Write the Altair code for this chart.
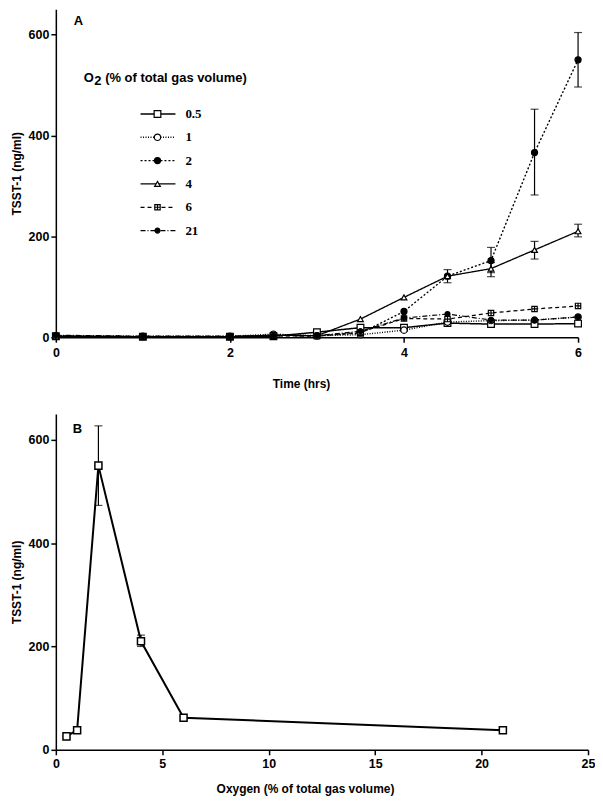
import altair as alt
import pandas as pd

# ---------------- Panel A data ----------------
times = [0, 1, 2, 2.5, 3, 3.5, 4, 4.5, 5, 5.5, 6]
series_labels = ["0.5", "1", "2", "4", "6", "21"]
s05 = [2, 1, 1, 2, 10, 19, 19, 28, 26, 26, 27]
s1 = [3, 2, 2, 6, 3, 5, 14, 30, 33, 34, 40]
s2 = [2, 1, 1, 4, 3, 8, 51, 121, 152, 366, 550]
s4 = [1, 1, 1, 4, 3, 36, 79, 121, 136, 173, 210]
s6 = [2, 1, 1, 3, 2, 10, 37, 36, 48, 56, 62]
s21 = [4, 2, 2, 3, 3, 12, 38, 46, 34, 34, 40]
series_values = [s05, s1, s2, s4, s6, s21]

err_series = ["2", "2", "2", "4", "4", "4", "4"]
err_time = [5, 5.5, 6, 4.5, 5, 5.5, 6]
err_low = [128, 282, 496, 108, 120, 155, 199]
err_high = [178, 452, 604, 134, 148, 190, 224]

# ---------------- Panel B data ----------------
oxygen = [0.5, 1, 2, 4, 6, 21]
tsst = [26, 38, 550, 210, 62, 38]
b_err_x = [2, 4]
b_err_low = [473, 200]
b_err_high = [627, 222]

rows = []
for lab, vals in zip(series_labels, series_values):
    for t, v in zip(times, vals):
        rows.append({"series": lab, "time": t, "tsst": v})
dfA = pd.DataFrame(rows)
dfErrA = pd.DataFrame({"series": err_series, "time": err_time, "lo": err_low, "hi": err_high})
dfLeg = pd.DataFrame({"series": series_labels})
dfB = pd.DataFrame({"oxygen": oxygen, "tsst": tsst})
dfErrB = pd.DataFrame({"oxygen": b_err_x, "lo": b_err_low, "hi": b_err_high})

boxplus = "M-1,-1H1V1H-1Z M0,-1V1 M-1,0H1"
dash_scale = alt.Scale(domain=series_labels,
                       range=[[1, 0], [1, 1.5], [2, 2], [1, 0], [4, 3], [5, 2, 1, 2]])
shape_scale = alt.Scale(domain=series_labels,
                        range=["square", "circle", "circle", "triangle-up", boxplus, "circle"])
fill_scale = alt.Scale(domain=series_labels,
                       range=["white", "white", "black", "white", "white", "black"])
size_scale = alt.Scale(domain=series_labels, range=[45, 25, 45, 45, 45, 40])
width_scale = alt.Scale(domain=series_labels, range=[1.5, 1.2, 1.5, 2, 1.5, 1.3])

yA = alt.Y("tsst:Q", title="TSST-1 (ng/ml)",
           scale=alt.Scale(domain=[0, 650], nice=False),
           axis=alt.Axis(values=[0, 200, 400, 600], format="d"))
xA = alt.X("time:Q", title="Time (hrs)",
           scale=alt.Scale(domain=[0, 6], nice=False),
           axis=alt.Axis(values=[0, 2, 4, 6], format="d", titlePadding=20, labelPadding=4,
                         titleX=246))

linesA = alt.Chart(dfA).mark_line(color="black").encode(
    x=xA, y=yA,
    detail="series:N",
    strokeDash=alt.StrokeDash("series:N", scale=dash_scale, legend=None),
    strokeWidth=alt.StrokeWidth("series:N", scale=width_scale, legend=None),
)
errA = alt.Chart(dfErrA).mark_rule(color="black", strokeWidth=1.2).encode(
    x="time:Q", y="lo:Q", y2="hi:Q")
capLoA = alt.Chart(dfErrA).mark_tick(color="black", thickness=1.2, size=8, orient="horizontal").encode(
    x="time:Q", y="lo:Q")
capHiA = alt.Chart(dfErrA).mark_tick(color="black", thickness=1.2, size=8, orient="horizontal").encode(
    x="time:Q", y="hi:Q")
ptsA = alt.Chart(dfA).mark_point(filled=True, stroke="black", strokeWidth=1.2, opacity=1).encode(
    x="time:Q", y="tsst:Q",
    shape=alt.Shape("series:N", scale=shape_scale, legend=None),
    fill=alt.Fill("series:N", scale=fill_scale, legend=None),
    size=alt.Size("series:N", scale=size_scale, legend=None),
)
mainA = alt.layer(linesA, errA, capLoA, capHiA, ptsA)

# custom legend
legY = alt.Y("series:N", sort=series_labels, axis=None,
             scale=alt.Scale(type="point", range=[105, 222], padding=0))
legRule = alt.Chart(dfLeg).mark_rule(color="black").encode(
    x=alt.value(85), x2=alt.value(120), y=legY,
    strokeDash=alt.StrokeDash("series:N", scale=dash_scale, legend=None),
    strokeWidth=alt.StrokeWidth("series:N", scale=width_scale, legend=None),
)
legPts = alt.Chart(dfLeg).mark_point(filled=True, stroke="black", strokeWidth=1.2, opacity=1).encode(
    x=alt.value(102), y=legY,
    shape=alt.Shape("series:N", scale=shape_scale, legend=None),
    fill=alt.Fill("series:N", scale=fill_scale, legend=None),
    size=alt.Size("series:N", scale=size_scale, legend=None),
)
legText = alt.Chart(dfLeg).mark_text(align="left", baseline="middle", font="Liberation Serif",
                                     fontWeight="bold", fontSize=13, color="black").encode(
    x=alt.value(130), y=legY, text="series:N")
legend = alt.layer(legRule, legPts, legText)

tstyle = dict(align="left", baseline="middle", font="Liberation Sans", fontWeight="bold",
              fontSize=13, color="black")
titleO = alt.Chart(pd.DataFrame({"t": ["O"]})).mark_text(**tstyle).encode(
    x=alt.value(28), y=alt.value(69), text="t:N")
title2 = alt.Chart(pd.DataFrame({"t": ["2"]})).mark_text(**tstyle).encode(
    x=alt.value(38.5), y=alt.value(72), text="t:N")
titleRest = alt.Chart(pd.DataFrame({"t": ["(% of total gas volume)"]})).mark_text(**tstyle).encode(
    x=alt.value(49.5), y=alt.value(69), text="t:N")
letterA = alt.Chart(pd.DataFrame({"t": ["A"]})).mark_text(**tstyle).encode(
    x=alt.value(18), y=alt.value(12), text="t:N")

panelA = alt.layer(mainA, legend, titleO, title2, titleRest, letterA).resolve_scale(
    y="independent").properties(width=524, height=329)

# ---------------- Panel B ----------------
yB = alt.Y("tsst:Q", title="TSST-1 (ng/ml)",
           scale=alt.Scale(domain=[0, 650], nice=False),
           axis=alt.Axis(values=[0, 200, 400, 600], format="d"))
xB = alt.X("oxygen:Q", title="Oxygen (% of total gas volume)",
           scale=alt.Scale(domain=[0, 25], nice=False),
           axis=alt.Axis(values=[0, 5, 10, 15, 20, 25], format="d", titlePadding=13,
                         labelPadding=3, titleX=250))
lineB = alt.Chart(dfB).mark_line(color="black", strokeWidth=2).encode(x=xB, y=yB)
errB = alt.Chart(dfErrB).mark_rule(color="black", strokeWidth=1.2).encode(
    x="oxygen:Q", y="lo:Q", y2="hi:Q")
capLoB = alt.Chart(dfErrB).mark_tick(color="black", thickness=1.2, size=8, orient="horizontal").encode(
    x="oxygen:Q", y="lo:Q")
capHiB = alt.Chart(dfErrB).mark_tick(color="black", thickness=1.2, size=8, orient="horizontal").encode(
    x="oxygen:Q", y="hi:Q")
ptsB = alt.Chart(dfB).mark_point(shape="square", filled=True, fill="white", stroke="black",
                                 strokeWidth=1.5, size=50, opacity=1).encode(x="oxygen:Q", y="tsst:Q")
letterB = alt.Chart(pd.DataFrame({"t": ["B"]})).mark_text(**tstyle).encode(
    x=alt.value(17), y=alt.value(15), text="t:N")
panelB = alt.layer(lineB, errB, capLoB, capHiB, ptsB, letterB).properties(width=534, height=337)

chart = alt.vconcat(panelA, panelB, spacing=24).properties(
    padding={"left": 2, "top": 0, "right": 0, "bottom": 0}
).configure_view(stroke=None).configure_axis(
    grid=False, domainColor="black", domainWidth=1.5, tickColor="black", tickWidth=1.5,
    tickSize=5, labelFont="Liberation Sans", labelFontWeight="bold", labelFontSize=12.5,
    labelColor="black", titleFont="Liberation Sans", titleFontWeight="bold",
    titleFontSize=12, titleColor="black", labelFlush=False
).configure_axisY(labelPadding=2, titlePadding=5)

chart.save("out.html", embed_options={"renderer": "svg", "actions": False})
